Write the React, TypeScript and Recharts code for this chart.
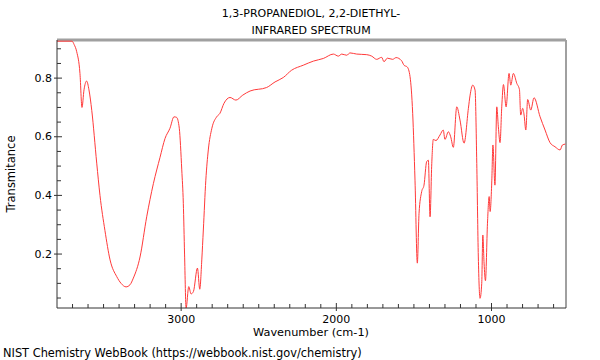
import React from 'react';
import { LineChart, Line, XAxis, YAxis, ReferenceLine } from 'recharts';

// wavenumber (cm-1) and transmittance
const wavenumbers = [
  3800, 3703, 3690, 3673, 3652, 3639, 3626, 3609, 3594, 3576, 3544, 3523, 3491, 3458, 3415, 3387, 3355, 3330,
  3308, 3265, 3222, 3179, 3136, 3104, 3072, 3046, 3029, 3012, 2996, 2986, 2978, 2968, 2951, 2936, 2921, 2895,
  2880, 2867, 2857, 2841, 2825, 2802, 2771, 2750, 2724, 2685, 2647, 2603, 2556, 2449, 2395, 2342, 2288, 2213,
  2148, 2084, 2019, 1987, 1965, 1933, 1912, 1869, 1804, 1772, 1740, 1708, 1693, 1671, 1637, 1615, 1579, 1564,
  1543, 1525, 1508, 1493, 1478, 1467, 1450, 1435, 1418, 1407, 1396, 1385, 1375, 1358, 1332, 1311, 1300, 1278,
  1263, 1246, 1224, 1203, 1177, 1149, 1138, 1121, 1106, 1095, 1085, 1074, 1063, 1056, 1048, 1039, 1026, 1015,
  1009, 998, 991, 978, 966, 956, 945, 934, 923, 906, 887, 876, 859, 837, 820, 812, 799, 790, 779, 767, 747, 726,
  687, 655, 623, 591, 558, 543, 524,
];
const transmittance = [
  0.926, 0.926, 0.915, 0.89, 0.816, 0.7, 0.76, 0.79, 0.76, 0.69, 0.51, 0.4, 0.28, 0.18, 0.123, 0.1, 0.088, 0.095,
  0.118, 0.19, 0.327, 0.44, 0.53, 0.594, 0.629, 0.668, 0.666, 0.629, 0.487, 0.373, 0.2, 0.016, 0.089, 0.064, 0.072, 0.152,
  0.08, 0.18, 0.282, 0.452, 0.555, 0.629, 0.668, 0.68, 0.714, 0.734, 0.725, 0.742, 0.756, 0.768, 0.787, 0.802, 0.827, 0.844,
  0.858, 0.867, 0.882, 0.875, 0.882, 0.878, 0.886, 0.882, 0.88, 0.875, 0.864, 0.871, 0.856, 0.868, 0.864, 0.87, 0.859, 0.844,
  0.838, 0.805, 0.68, 0.452, 0.169, 0.339, 0.413, 0.435, 0.515, 0.52, 0.327, 0.509, 0.591, 0.587, 0.606, 0.623, 0.591, 0.617,
  0.6, 0.564, 0.702, 0.657, 0.578, 0.697, 0.742, 0.776, 0.759, 0.509, 0.19, 0.049, 0.1, 0.265, 0.169, 0.109, 0.305, 0.396,
  0.345, 0.452, 0.572, 0.435, 0.702, 0.634, 0.58, 0.702, 0.778, 0.702, 0.816, 0.776, 0.816, 0.782, 0.761, 0.674, 0.697, 0.674, 0.623, 0.727, 0.691, 0.733,
  0.668, 0.623, 0.58, 0.566, 0.555, 0.572, 0.575,
];

const xTicks = [
  3700, 3600, 3500, 3400, 3300, 3200, 3100, 3000, 2900, 2800, 2700, 2600, 2500, 2400, 2300, 2200, 2100, 2000,
  1900, 1800, 1700, 1600, 1500, 1400, 1300, 1200, 1100, 1000, 900, 800, 700, 600,
];
const xLabels = [3000, 2000, 1000];
const yTicks = [0.05, 0.1, 0.15, 0.2, 0.25, 0.3, 0.35, 0.4, 0.45, 0.5, 0.55, 0.6, 0.65, 0.7, 0.75, 0.8, 0.85, 0.9];
const yLabels = [0.2, 0.4, 0.6, 0.8];

const data = wavenumbers.map((w, i) => ({ w, t: transmittance[i] }));

const font = '"DejaVu Sans", sans-serif';

const XTick = (props: any) => {
  const { x, y, payload } = props;
  const major = xLabels.includes(payload.value);
  return (
    <g>
      <line x1={x} x2={x} y1={major ? y + 3 : y} y2={major ? y - 5 : y - 4} stroke="#333" />
      {major && (
        <text x={x} y={y + 11} textAnchor="middle" dominantBaseline="central" fontSize={11} fontFamily={font} fill="#000">
          {payload.value}
        </text>
      )}
    </g>
  );
};

const YTick = (props: any) => {
  const { x, y, payload } = props;
  const major = yLabels.includes(payload.value);
  return (
    <g>
      <line x1={major ? x - 3 : x} x2={major ? x + 5 : x + 4} y1={y} y2={y} stroke="#333" />
      {major && (
        <text x={x - 5} y={y} textAnchor="end" dominantBaseline="central" fontSize={11} fontFamily={font} fill="#000">
          {payload.value}
        </text>
      )}
    </g>
  );
};

export default function App() {
  return (
    <div style={{ position: 'absolute', left: 0, top: 0, width: 600, height: 360, background: '#fff', fontFamily: font, color: '#000' }}>
      <div style={{ position: 'absolute', left: 311, top: 13, transform: 'translate(-50%,-50%)', fontSize: 11, whiteSpace: 'nowrap' }}>
        1,3-PROPANEDIOL, 2,2-DIETHYL-
      </div>
      <div style={{ position: 'absolute', left: 311, top: 30, transform: 'translate(-50%,-50%)', fontSize: 11, whiteSpace: 'nowrap' }}>
        INFRARED SPECTRUM
      </div>
      <LineChart width={600} height={360} data={data} margin={{ top: 40, right: 34, bottom: 32, left: 0 }}>
        <XAxis
          type="number"
          dataKey="w"
          domain={[520, 3800]}
          reversed
          allowDataOverflow
          ticks={xTicks}
          interval={0}
          tickSize={0}
          tickMargin={0}
          height={20}
          axisLine={{ stroke: '#333' }}
          tick={XTick}
        />
        <YAxis
          type="number"
          domain={[0.016, 0.93]}
          allowDataOverflow
          ticks={yTicks}
          interval={0}
          tickSize={0}
          tickMargin={0}
          width={57}
          axisLine={{ stroke: '#333' }}
          tick={YTick}
        />
        <ReferenceLine y={0.93} stroke="#a0a0a0" strokeWidth={3} />
        <ReferenceLine x={520} stroke="#a0a0a0" strokeWidth={2} />
        <Line type="monotone" dataKey="t" stroke="#ff3a3a" strokeWidth={1} dot={false} isAnimationActive={false} />
      </LineChart>
      <div style={{ position: 'absolute', left: 311, top: 332, transform: 'translate(-50%,-50%)', fontSize: 11.3, whiteSpace: 'nowrap' }}>
        Wavenumber (cm-1)
      </div>
      <div style={{ position: 'absolute', left: 11, top: 174, transform: 'translate(-50%,-50%) rotate(-90deg)', fontSize: 11.5, whiteSpace: 'nowrap' }}>
        Transmitance
      </div>
      <div style={{ position: 'absolute', left: 3, top: 353, transform: 'translateY(-50%)', fontSize: 11.4, whiteSpace: 'nowrap' }}>
        NIST Chemistry WebBook (https://webbook.nist.gov/chemistry)
      </div>
    </div>
  );
}
